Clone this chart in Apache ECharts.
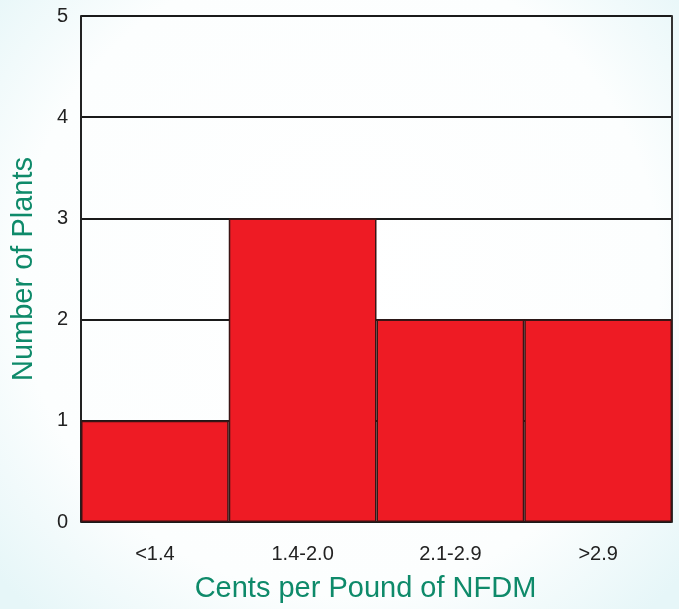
<!DOCTYPE html>
<html>
<head>
<meta charset="utf-8">
<script src="https://cdn.jsdelivr.net/npm/echarts@6/dist/echarts.min.js"></script>
<style>
  html, body { margin: 0; padding: 0; background: #fff; }
  #chart0 { width: 679px; height: 609px; }
</style>
</head>
<body>
<div id="chart0"></div>
<script>
var categories = ['<1.4', '1.4-2.0', '2.1-2.9', '>2.9']
var plants = [1, 3, 2, 2]
var yTicks = [0, 1, 2, 3, 4, 5]

var chart0 = echarts.init(document.getElementById('chart0'))
var teal = '#0e8a6a'
var option0 = {
  backgroundColor: {
    type: 'radial', x: 0.5, y: 0.45, r: 0.75,
    colorStops: [
      { offset: 0, color: '#ffffff' },
      { offset: 0.7, color: '#fcfefe' },
      { offset: 1, color: '#e6f6f8' }
    ]
  },
  animation: false,
  grid: { left: 81, right: 7, top: 16, bottom: 87 },
  xAxis: {
    type: 'category',
    data: categories,
    name: 'Cents per Pound of NFDM',
    nameLocation: 'middle',
    nameGap: 52,
    nameTextStyle: { color: teal, fontSize: 29, fontFamily: 'Liberation Sans', padding: [0, 22, 0, 0] },
    axisLine: { show: false },
    axisTick: { show: false },
    axisLabel: { color: '#222', fontSize: 20, margin: 22, fontFamily: 'Liberation Sans' }
  },
  yAxis: [{
    type: 'value',
    min: yTicks[0],
    max: yTicks[yTicks.length - 1],
    interval: 1,
    name: 'Number of Plants',
    nameLocation: 'middle',
    nameGap: 43,
    nameTextStyle: { color: teal, fontSize: 29, fontFamily: 'Liberation Sans' },
    axisLine: { show: true, lineStyle: { color: '#222', width: 2 } },
    axisTick: { show: false },
    axisLabel: { color: '#222', fontSize: 20, margin: 13, fontFamily: 'Liberation Sans' },
    splitLine: { lineStyle: { color: '#1a1a1a', width: 2 } }
  }, {
    type: 'value',
    position: 'right',
    min: 0,
    max: 5,
    interval: 1,
    axisLine: { show: true, lineStyle: { color: '#333', width: 2 } },
    axisTick: { show: false },
    axisLabel: { show: false },
    splitLine: { show: false }
  }],
  series: [{
    type: 'bar',
    data: plants,
    barCategoryGap: '0%',
    itemStyle: { color: '#ee1b24', borderColor: '#3b1414', borderWidth: 1.5 }
  }]
}
chart0.setOption(option0)
</script>
</body>
</html>
